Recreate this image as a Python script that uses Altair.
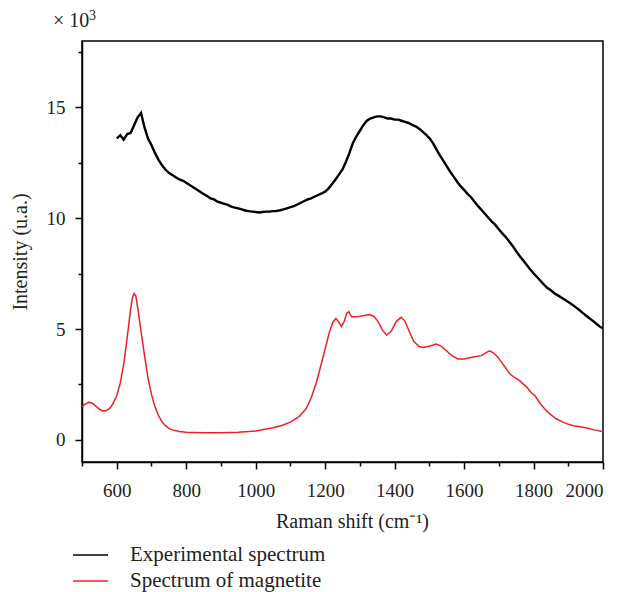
import altair as alt
import pandas as pd

# Experimental spectrum (black), x in cm^-1, y in 10^3 u.a.
exp_x = list(range(600, 2001, 10))
exp_y = [13.6, 13.75, 13.55, 13.8, 13.85, 14.2, 14.55, 14.75, 14.1, 13.6,
         13.3, 12.95, 12.65, 12.4, 12.2, 12.05, 11.95, 11.85, 11.75, 11.7,
         11.6, 11.5, 11.4, 11.3, 11.2, 11.1, 11.0, 10.9, 10.85, 10.75,
         10.7, 10.65, 10.6, 10.52, 10.48, 10.45, 10.4, 10.35, 10.32, 10.3,
         10.28, 10.26, 10.28, 10.3, 10.3, 10.32, 10.33, 10.36, 10.4, 10.45,
         10.5, 10.55, 10.62, 10.7, 10.78, 10.85, 10.9, 10.98, 11.05, 11.12,
         11.2, 11.35, 11.55, 11.75, 11.98, 12.2, 12.55, 12.95, 13.4, 13.7,
         13.95, 14.2, 14.4, 14.5, 14.55, 14.6, 14.6, 14.55, 14.5, 14.5,
         14.45, 14.45, 14.4, 14.35, 14.3, 14.22, 14.15, 14.05, 13.92, 13.78,
         13.62, 13.4, 13.12, 12.85, 12.6, 12.35, 12.1, 11.88, 11.65, 11.45,
         11.28, 11.1, 10.95, 10.75, 10.55, 10.38, 10.2, 10.02, 9.85, 9.7,
         9.5, 9.32, 9.15, 8.95, 8.75, 8.52, 8.3, 8.1, 7.9, 7.7,
         7.52, 7.35, 7.18, 7.0, 6.85, 6.75, 6.62, 6.52, 6.42, 6.32,
         6.22, 6.12, 6.0, 5.88, 5.75, 5.62, 5.5, 5.38, 5.25, 5.12,
         5.02]

# Spectrum of magnetite (red)
mag_x = [500, 510, 520, 530, 540, 550, 560, 570, 580, 590,
         600, 610, 620, 630, 640, 645, 650, 655, 660, 670,
         680, 690, 700, 710, 720, 730, 740, 750, 760, 780,
         800, 850, 900, 950, 1000, 1050, 1075, 1100, 1125, 1145,
         1160, 1175, 1190, 1200, 1212, 1222, 1231, 1240, 1247, 1255,
         1262, 1268, 1276, 1290, 1310, 1327, 1340, 1352, 1365, 1377,
         1390, 1405, 1419, 1430, 1442, 1455, 1470, 1481, 1500, 1520,
         1535, 1549, 1565, 1582, 1600, 1626, 1650, 1665, 1674, 1685,
         1698, 1715, 1732, 1745, 1760, 1780, 1795, 1804, 1820, 1835,
         1847, 1865, 1885, 1900, 1915, 1920, 1950, 1975, 2000]
mag_y = [1.5, 1.62, 1.7, 1.65, 1.52, 1.38, 1.3, 1.32, 1.42, 1.65,
         2.0, 2.55, 3.4, 4.6, 5.9, 6.4, 6.6, 6.5, 6.0, 4.9,
         3.8, 2.8, 2.05, 1.5, 1.1, 0.82, 0.64, 0.52, 0.45, 0.38,
         0.34, 0.32, 0.32, 0.34, 0.4, 0.55, 0.65, 0.8, 1.05, 1.4,
         1.9, 2.6, 3.5, 4.1, 4.85, 5.3, 5.48, 5.3, 5.12, 5.35,
         5.7, 5.78, 5.55, 5.55, 5.6, 5.66, 5.58, 5.35, 4.95, 4.73,
         4.9, 5.35, 5.53, 5.35, 4.9, 4.45, 4.22, 4.17, 4.22, 4.32,
         4.22, 4.02, 3.8, 3.65, 3.65, 3.74, 3.8, 3.95, 4.02, 3.92,
         3.72, 3.35, 2.97, 2.82, 2.67, 2.38, 2.1, 2.0, 1.62, 1.35,
         1.17, 0.95, 0.8, 0.7, 0.64, 0.62, 0.55, 0.45, 0.37]

series_names = ["Experimental spectrum", "Spectrum of magnetite"]
series_colors = ["#000000", "#ee2026"]

x_ticks = list(range(500, 2001, 100))
y_ticks = [0, 2.5, 5, 7.5, 10, 12.5, 15, 17.5]

df_exp = pd.DataFrame({"x": exp_x, "y": exp_y, "series": series_names[0]})
df_mag = pd.DataFrame({"x": mag_x, "y": mag_y, "series": series_names[1]})

FONT = "Liberation Serif"

x_enc = alt.X(
    "x:Q",
    scale=alt.Scale(domain=[500, 2000], nice=False, zero=False),
    axis=alt.Axis(
        title="Raman shift (cm\u207b\u00b9)",
        values=x_ticks,
        format="d",
        labelExpr="datum.value % 200 == 0 ? datum.label : ''",
        tickSize={"condition": {"test": "datum.value % 200 == 0", "value": 7}, "value": 4},
        grid=False,
        labelPadding=12,
        titleX=270,
        titleY=59,
        titleBaseline="middle",
        titleAlign="center",
    ),
)
y_enc = alt.Y(
    "y:Q",
    scale=alt.Scale(domain=[-1, 18], nice=False, zero=False),
    axis=alt.Axis(
        title="Intensity (u.a.)",
        values=y_ticks,
        labelExpr="datum.value % 5 == 0 ? format(datum.value, 'd') : ''",
        tickSize={"condition": {"test": "datum.value % 5 == 0", "value": 7}, "value": 4},
        grid=False,
        labelPadding=10,
        titleX=-62,
        titleY=210.5,
        titleAngle=-90,
        titleBaseline="middle",
        titleAlign="center",
    ),
)
color_scale = alt.Scale(domain=series_names, range=series_colors)
color_enc = alt.Color("series:N", scale=color_scale, legend=None)

exp_line = alt.Chart(df_exp).mark_line(strokeWidth=2.4, clip=True).encode(
    x=x_enc, y=y_enc, color=color_enc
)
mag_line = alt.Chart(df_mag).mark_line(strokeWidth=1.5, clip=True).encode(
    x=x_enc, y=y_enc, color=color_enc
)

# Legend (drawn below the plot, as in the reference)
legend_layers = []
for i, name in enumerate(series_names):
    row_y = 514 + 26 * i
    ldf = pd.DataFrame({"series": [name]})
    legend_layers.append(
        alt.Chart(ldf).mark_rule(strokeWidth=1.5).encode(
            x=alt.value(-9), x2=alt.value(26), y=alt.value(row_y),
            color=color_enc,
        )
    )
    legend_layers.append(
        alt.Chart(ldf).mark_text(
            align="left", baseline="middle", fontSize=21, font=FONT, color="#222222"
        ).encode(x=alt.value(48), y=alt.value(row_y), text="series:N")
    )

label_df = pd.DataFrame({"t": ["\u00d7 10"], "e": ["3"]})
exp_base = alt.Chart(label_df).mark_text(
    align="left", baseline="alphabetic", fontSize=20, font=FONT, color="#222222"
).encode(x=alt.value(-29), y=alt.value(-14), text="t:N")
exp_sup = alt.Chart(label_df).mark_text(
    align="left", baseline="alphabetic", fontSize=14, font=FONT, color="#222222"
).encode(x=alt.value(7), y=alt.value(-21), text="e:N")

chart = (
    alt.layer(exp_line, mag_line, *legend_layers, exp_base, exp_sup)
    .properties(
        width=521,
        height=421,
        autosize=alt.AutoSizeParams(type="none"),
        padding={"left": 82, "top": 41, "right": 22, "bottom": 130},
    )
    .configure_view(stroke="#000000", strokeWidth=1.5)
    .configure_axis(
        domainColor="#000000",
        domainWidth=1.5,
        tickColor="#000000",
        tickWidth=1.5,
        labelFont=FONT,
        labelFontSize=19,
        labelColor="#222222",
        titleFont=FONT,
        titleFontSize=20,
        titleFontWeight="normal",
        titleColor="#222222",
    )
)

chart.save("out.html", embed_options={"renderer": "svg", "actions": False})
